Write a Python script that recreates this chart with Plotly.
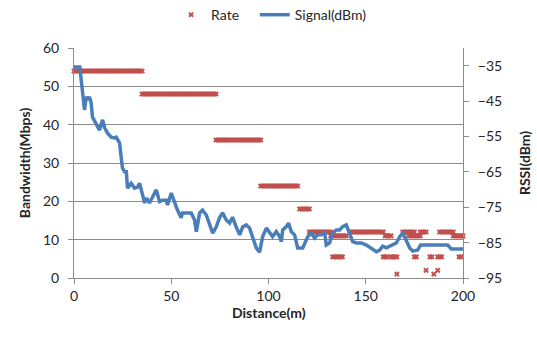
import plotly.graph_objects as go

# Signal (dBm) vs distance (m)
sig_dist = [0, 3, 3.7, 4.4, 5.4, 6.3, 7.2, 8.0, 8.8, 9.5, 11.4, 13.1, 14.7, 15.8, 17.2, 19.1,
            20.8, 21.7, 23.4, 24.3, 24.9, 26.0, 26.9, 27.5, 29.4, 31.1, 32.7, 33.7, 35.2, 36.3,
            37.3, 38.8, 40.4, 42.3, 44.0, 45.6, 47.4, 48.1, 50.0, 51.7, 53.2, 55.1, 55.8, 57.7,
            60.3, 62.0, 62.9, 64.6, 66.1, 68.0, 69.7, 71.3, 73.1, 74.8, 76.4, 78.3, 80.0, 81.5,
            83.4, 85.2, 86.7, 88.6, 90.3, 91.8, 93.7, 95.4, 97.0, 98.9, 100.6, 102.1, 104.0,
            105.7, 106.6, 107.3, 109.2, 110.3, 111.7, 113.4, 115.0, 117.6, 120.1, 122.0, 123.7,
            125.3, 127.2, 128.9, 129.7, 131.4, 133.0, 134.9, 136.6, 138.1, 140.0, 141.7, 143.3,
            145.2, 147.7, 150.3, 152.9, 155.5, 157.2, 158.7, 160.6, 163.2, 165.7, 167.4, 169.0,
            170.9, 172.6, 174.2, 176.7, 178.2, 192.1, 194.0, 200]
sig_dbm = [-35.4, -35.4, -39.0, -42.7, -47.5, -43.8, -44.7, -43.8, -45.5, -49.5, -51.2, -53.2,
           -50.3, -52.6, -54.0, -55.2, -55.4, -55.2, -56.8, -60.2, -63.9, -65.0, -65.0, -69.6,
           -68.2, -69.6, -69.3, -68.2, -72.0, -73.8, -72.4, -73.8, -72.1, -70.1, -73.4, -73.0,
           -73.0, -74.4, -71.0, -73.8, -75.8, -78.0, -76.6, -76.6, -76.6, -78.6, -81.9, -76.6,
           -75.8, -77.2, -79.5, -82.3, -80.6, -78.0, -76.6, -78.6, -79.5, -77.8, -80.6, -82.8,
           -80.6, -80.0, -80.9, -83.7, -86.5, -87.7, -83.3, -80.9, -82.3, -83.3, -81.9, -83.3,
           -84.7, -81.4, -80.5, -79.5, -81.9, -82.8, -86.5, -86.5, -83.4, -82.3, -83.7, -82.8,
           -82.8, -82.3, -85.7, -85.1, -82.3, -81.4, -81.4, -80.5, -80.0, -82.3, -84.7, -85.1,
           -85.1, -85.7, -86.8, -87.6, -87.1, -86.0, -86.5, -85.7, -85.1, -83.4, -82.3, -84.5,
           -86.5, -87.4, -87.1, -85.7, -85.7, -86.8, -86.8]

# Rate (Mbps): runs of samples (start m, end m, rate) taken every metre
rate_run_start = [0, 35, 73, 96, 116, 121, 132, 142, 148, 160, 169, 172, 178, 188, 195]
rate_run_end   = [35, 73, 96, 115, 121, 132, 140, 147, 159, 163, 175, 178, 181, 195, 200]
rate_run_value = [54, 48, 36, 24, 18, 12, 11, 12, 12, 11, 12, 11, 12, 12, 11]

# isolated rate samples
rate_pt_dist  = [133, 134, 135, 136, 137, 138, 159, 160, 161, 163, 164, 165, 166, 175, 176,
                 183, 184, 187, 188, 189, 198, 199, 166, 181, 185, 187]
rate_pt_value = [5.5, 5.5, 5.5, 5.5, 5.5, 5.5, 5.5, 5.5, 5.5, 5.5, 5.5, 5.5, 5.5, 5.5, 5.5,
                 5.5, 5.5, 5.5, 5.5, 5.5, 5.5, 5.5, 1, 2, 1, 2]

rate_x, rate_y = [], []
for s, e, v in zip(rate_run_start, rate_run_end, rate_run_value):
    d = s
    while d <= e:
        rate_x.append(d)
        rate_y.append(v)
        d += 1
rate_x += rate_pt_dist
rate_y += rate_pt_value

FONT = "Lato, 'Open Sans', sans-serif"
GRID = "#8C8C8C"
TXT = "#262626"
FS = 14

fig = go.Figure()
fig.add_trace(go.Scatter(
    x=rate_x, y=rate_y, mode="markers", name="Rate\u00a0\u00a0\u00a0",
    marker=dict(symbol="x", size=5, color="#C0504D", line=dict(width=0)),
    cliponaxis=False,
))
fig.add_trace(go.Scatter(
    x=sig_dist, y=sig_dbm, mode="lines", name="Signal(dBm)", yaxis="y2",
    line=dict(color="#4A7EBB", width=3.5),
))

fig.update_layout(
    width=537, height=345,
    margin=dict(l=74, r=74, t=48, b=67, autoexpand=False),
    paper_bgcolor="white", plot_bgcolor="white",
    font=dict(family=FONT, size=FS, color=TXT),
    showlegend=True,
    legend=dict(orientation="h", x=0.508, y=1.143, xanchor="center", yanchor="middle",
                font=dict(size=FS, color=TXT), tracegroupgap=0,
                bgcolor="rgba(0,0,0,0)"),
    xaxis=dict(range=[0, 200], tickvals=[0, 50, 100, 150, 200], showgrid=False,
               showline=True, linecolor=GRID, linewidth=1, ticks="outside", ticklen=5,
               tickcolor=GRID, zeroline=False, tickfont=dict(size=FS, color=TXT)),
    yaxis=dict(range=[0, 60], tickvals=[0, 10, 20, 30, 40, 50, 60], showgrid=True,
               gridcolor=GRID, gridwidth=1, showline=True, linecolor=GRID, linewidth=1,
               ticks="outside", ticklen=5, tickcolor=GRID, zeroline=False,
               ticklabelstandoff=6, tickfont=dict(size=FS, color=TXT)),
    yaxis2=dict(range=[-95, -30], tickvals=[-95, -85, -75, -65, -55, -45, -35],
                overlaying="y", side="right", showgrid=False, showline=True,
                linecolor=GRID, linewidth=1, ticks="outside", ticklen=5, tickcolor=GRID,
                zeroline=False, ticklabelstandoff=6, tickfont=dict(size=FS, color=TXT)),
    annotations=[
        dict(text="<b>Bandwidth(Mbps)</b>", xref="paper", yref="paper",
             x=-0.128, y=0.5, xanchor="center", yanchor="middle", textangle=-90,
             showarrow=False, font=dict(size=FS, color=TXT)),
        dict(text="<b>RSSI(dBm)</b>", xref="paper", yref="paper",
             x=1.157, y=0.5, xanchor="center", yanchor="middle", textangle=-90,
             showarrow=False, font=dict(size=FS, color=TXT)),
        dict(text="<b>Distance(m)</b>", xref="paper", yref="paper",
             x=0.5, y=-0.15, xanchor="center", yanchor="middle", showarrow=False,
             font=dict(size=FS, color=TXT)),
    ],
)

# remove the default page margin so the figure sits at the window's top-left corner
fig.write_html("out.html", config={"displayModeBar": False},
               post_script="document.body.style.margin='0';")
